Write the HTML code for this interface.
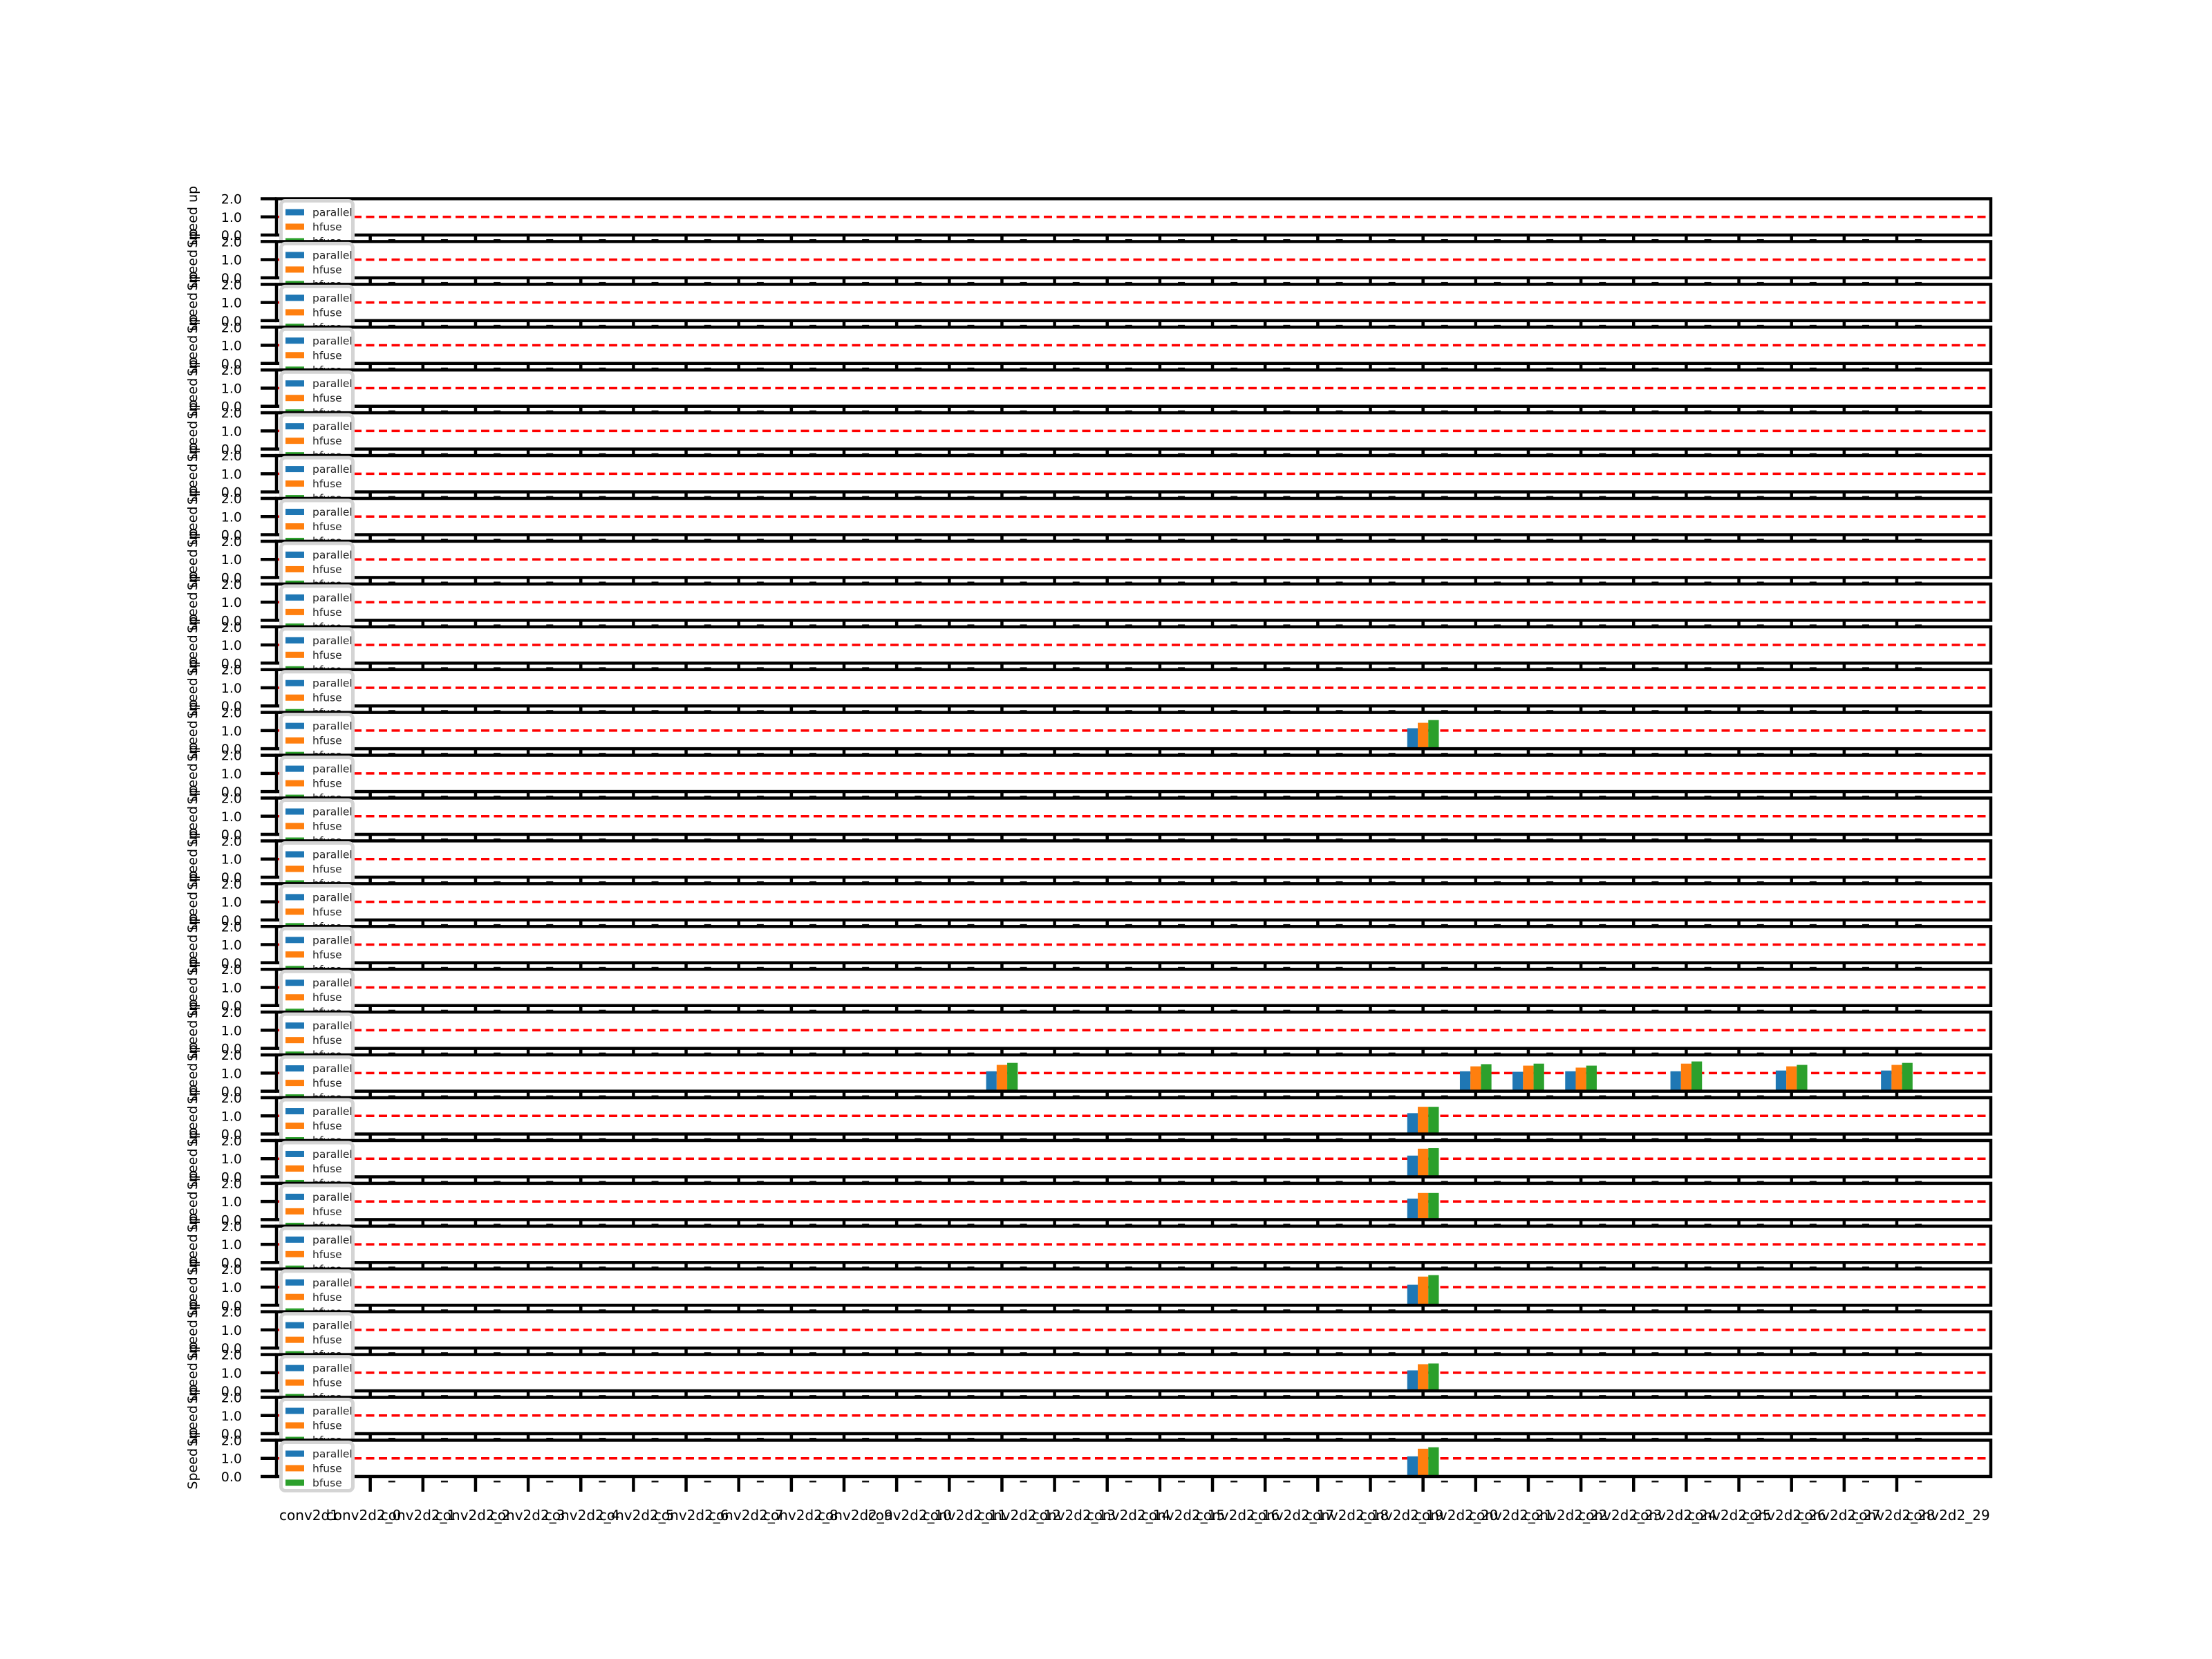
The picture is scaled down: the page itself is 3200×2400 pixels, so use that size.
<!DOCTYPE html>
<html><head><meta charset="utf-8"><style>
html,body{margin:0;padding:0;background:#fff;}
svg{display:block;}
text{font-family:"DejaVu Sans","Liberation Sans",sans-serif;}
</style></head>
<body>
<svg id="chart" width="3200" height="2400" viewBox="0 0 3200 2400" xmlns="http://www.w3.org/2000/svg">
<rect x="0" y="0" width="3200" height="2400" fill="#fff"/>
</svg>
<script>
const categories = ['conv2d1','conv2d2_0','conv2d2_1','conv2d2_2','conv2d2_3','conv2d2_4','conv2d2_5','conv2d2_6','conv2d2_7','conv2d2_8','conv2d2_9','conv2d2_10','conv2d2_11','conv2d2_12','conv2d2_13','conv2d2_14','conv2d2_15','conv2d2_16','conv2d2_17','conv2d2_18','conv2d2_19','conv2d2_20','conv2d2_21','conv2d2_22','conv2d2_23','conv2d2_24','conv2d2_25','conv2d2_26','conv2d2_27','conv2d2_28','conv2d2_29'];
const yTicks = [0, 1, 2];
const yTickLabels = ['0.0', '1.0', '2.0'];
const seriesNames = ['parallel', 'hfuse', 'bfuse'];
const barSubplot = [12, 20, 20, 20, 20, 20, 20, 20, 21, 22, 23, 25, 27, 29];
const barCategory = [21, 13, 22, 23, 24, 26, 28, 30, 21, 21, 21, 21, 21, 21];
const parallelVals = [1.13, 1.10, 1.10, 1.07, 1.10, 1.10, 1.14, 1.14, 1.15, 1.17, 1.16, 1.13, 1.13, 1.11];
const hfuseVals = [1.43, 1.45, 1.37, 1.41, 1.30, 1.52, 1.37, 1.45, 1.50, 1.55, 1.47, 1.58, 1.47, 1.53];
const bfuseVals = [1.58, 1.56, 1.49, 1.52, 1.41, 1.64, 1.45, 1.56, 1.50, 1.58, 1.47, 1.66, 1.51, 1.61];
const nSubplots = 30;

const NS = 'http://www.w3.org/2000/svg';
const svg = document.getElementById('chart');
const colors = ['#1f77b4', '#ff7f0e', '#2ca02c'];
const AX_L = 400, AX_R = 2880, AX_H = 52.5, PITCH = 61.93, TOP0 = 287.5;
const X0 = 459.5, XSTEP = 76.15;
function xPos(i) { return X0 + i * XSTEP; }
function rowTop(r) { return TOP0 + r * PITCH; }
function yPos(v, r) { return rowTop(r) + AX_H * (1 - v / 2); }
function el(tag, attrs, parent) {
  const e = document.createElementNS(NS, tag);
  for (const k in attrs) e.setAttribute(k, attrs[k]);
  (parent || svg).appendChild(e);
  return e;
}
const barW = XSTEP * 0.2;

for (let r = 0; r < nSubplots; r++) {
  const g = el('g', {});
  
  
  const top = rowTop(r), bot = top + AX_H;
  const bg = el('rect', {x: AX_L, y: top, width: AX_R - AX_L, height: AX_H, fill: '#fff'}, g);
  
  
  const ref = el('line', {x1: AX_L, x2: AX_R, y1: yPos(1, r), y2: yPos(1, r), stroke: '#ff0000', 'stroke-width': 3.5, 'stroke-dasharray': '12 6.5'}, g);
  
  
  for (let k = 0; k < barSubplot.length; k++) {
    if (barSubplot[k] !== r) continue;
    const vals = [parallelVals[k], hfuseVals[k], bfuseVals[k]];
    for (let s = 0; s < 3; s++) {
      const cx = xPos(barCategory[k]) + (s - 1) * barW;
      const yT = yPos(vals[s], r), y0 = yPos(0, r);
      const b = el('rect', {x: cx - barW / 2, y: yT, width: barW, height: y0 - yT, fill: colors[s]}, g);
      
      
    }
  }
  const sp = el('rect', {x: AX_L, y: top, width: AX_R - AX_L, height: AX_H, fill: 'none', stroke: '#000', 'stroke-width': 4.5}, g);
  
  
  for (let i = 0; i < categories.length; i++) {
    const t = el('line', {x1: xPos(i), x2: xPos(i), y1: bot, y2: bot + 22, stroke: '#000', 'stroke-width': 4.5}, g);
    
    
  }
  for (let i = 0; i <= categories.length; i++) {
    const d = el('rect', {x: xPos(i) - 50, y: bot + 6, width: 10, height: 2.5, fill: '#111'}, g);
    
    
  }
  for (let j = 0; j < yTicks.length; j++) {
    const yy = yPos(yTicks[j], r);
    const t = el('line', {x1: AX_L - 23, x2: AX_L, y1: yy, y2: yy, stroke: '#000', 'stroke-width': 4.5}, g);
    
    
    const tl = el('text', {x: 350, y: yy + 7, 'font-size': 19, 'text-anchor': 'end', fill: '#000'}, g);
    tl.textContent = yTickLabels[j];
    
    
  }
  const cy = top + AX_H / 2;
  const yl = el('text', {x: 0, y: 0, 'font-size': 19, 'text-anchor': 'middle', transform: 'translate(285,' + cy + ') rotate(-90)', fill: '#000'}, g);
  yl.textContent = 'Speed up';
  
  
  const lg = el('g', {}, g);
  
  
  el('rect', {x: 406.5, y: top + 3, width: 104, height: 70, rx: 6, fill: '#fff', stroke: '#d4d4d4', 'stroke-width': 5}, lg);
  for (let s = 0; s < 3; s++) {
    const ey = top + 19.5 + s * 21;
    const p = el('rect', {x: 413, y: ey - 4.5, width: 27, height: 9, fill: colors[s]}, lg);
    
    
    const lt = el('text', {x: 452, y: ey + 5.5, 'font-size': 15.5, fill: '#222'}, lg);
    lt.textContent = seriesNames[s];
    
    
  }
}
const xl0 = 447, xl1 = 2818;
for (let i = 0; i < categories.length; i++) {
  const t = el('text', {x: xl0 + i * (xl1 - xl0) / (categories.length - 1), y: 2199, 'font-size': 20, 'text-anchor': 'middle', fill: '#000'});
  t.textContent = categories[i];
  
  
}
</script>
</body></html>
